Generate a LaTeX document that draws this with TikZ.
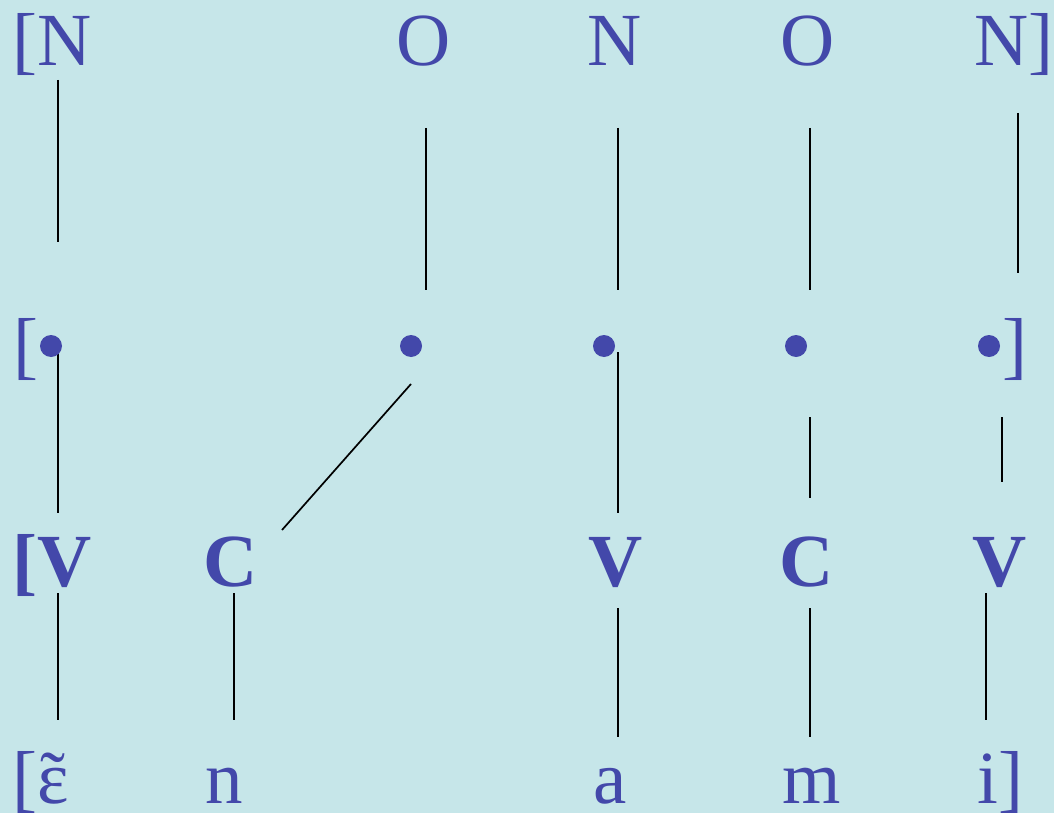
\documentclass[tikz,border=0pt]{standalone}
\usepackage{fontspec}
\setmainfont{Liberation Serif}
\definecolor{bgc}{RGB}{198,230,233}
\definecolor{ink}{RGB}{67,72,170}
% open e with a tilde set over it
\newcommand{\nasaleps}{\ooalign{ɛ\cr\hidewidth˜\hidewidth\cr}}
\begin{document}
\begin{tikzpicture}[x=1pt,y=-1pt,
  lbl/.style={text=ink,font=\fontsize{75}{80}\selectfont,inner sep=0pt,anchor=base},
  lblw/.style={lbl,anchor=base west},
  bld/.style={font=\fontsize{75}{80}\selectfont\bfseries},
  dot/.style={circle,fill=ink,minimum size=22pt,inner sep=0pt},
  tie/.style={line width=1.7pt,black}]
\fill[bgc] (0,0) rectangle (1054,813);
\useasboundingbox (0,0) rectangle (1054,813);

% tier 1: N / O skeleton
\node[lblw] (n1) at (12.5,66) {[N};
\node[lbl]  (o1) at (424,66) {O};
\node[lbl]  (n2) at (615,66) {N};
\node[lbl]  (o2) at (808,66) {O};
\node[lblw] (n3) at (974,66) {N]};

% tier 3: CV skeleton
\node[lblw,bld] (v1) at (12,586) {[V};
\node[lbl,bld]  (c1) at (231,586) {C};
\node[lbl,bld]  (v2) at (616,586) {V};
\node[lbl,bld]  (c2) at (807,586) {C};
\node[lbl,bld]  (v3) at (1000,586) {V};

% tier 4: segments
\node[lblw] (e1) at (12,803) {[\nasaleps};
\node[lbl]  (n4) at (224,803) {n};
\node[lbl]  (a1) at (610,803) {a};
\node[lbl]  (m1) at (812,803) {m};
\node[lblw] (i1) at (977,803) {i]};

% association line ends
\coordinate (t1a) at (58,80);    \coordinate (t1b) at (58,242);
\coordinate (t2a) at (426,128);  \coordinate (t2b) at (426,290);
\coordinate (t3a) at (618,128);  \coordinate (t3b) at (618,290);
\coordinate (t4a) at (810,128);  \coordinate (t4b) at (810,290);
\coordinate (t5a) at (1018,113); \coordinate (t5b) at (1018,273);

\coordinate (u1a) at (58,352);   \coordinate (u1b) at (58,513);
\coordinate (u2a) at (411,384);  \coordinate (u2b) at (282,530);
\coordinate (u3a) at (618,352);  \coordinate (u3b) at (618,513);
\coordinate (u4a) at (810,417);  \coordinate (u4b) at (810,498);
\coordinate (u5a) at (1002,417); \coordinate (u5b) at (1002,482);

\coordinate (w1a) at (58,593);   \coordinate (w1b) at (58,720);
\coordinate (w2a) at (234,593);  \coordinate (w2b) at (234,720);
\coordinate (w3a) at (618,608);  \coordinate (w3b) at (618,737);
\coordinate (w4a) at (810,608);  \coordinate (w4b) at (810,737);
\coordinate (w5a) at (986,593);  \coordinate (w5b) at (986,720);

\foreach \p in {t1,t2,t3,t4,t5,u1,u2,u3,u4,u5,w1,w2,w3,w4,w5}
  \draw[tie] (\p a) -- (\p b);

% tier 2: timing slots
\node[lblw] (lb2) at (13,370) {[};
\node[dot] (s1) at (51,346) {};
\node[dot] (s2) at (411,346) {};
\node[dot] (s3) at (604,346) {};
\node[dot] (s4) at (796,346) {};
\node[dot] (s5) at (989,346) {};
\node[lblw] (rb2) at (1002,370) {]};
\end{tikzpicture}
\end{document}
